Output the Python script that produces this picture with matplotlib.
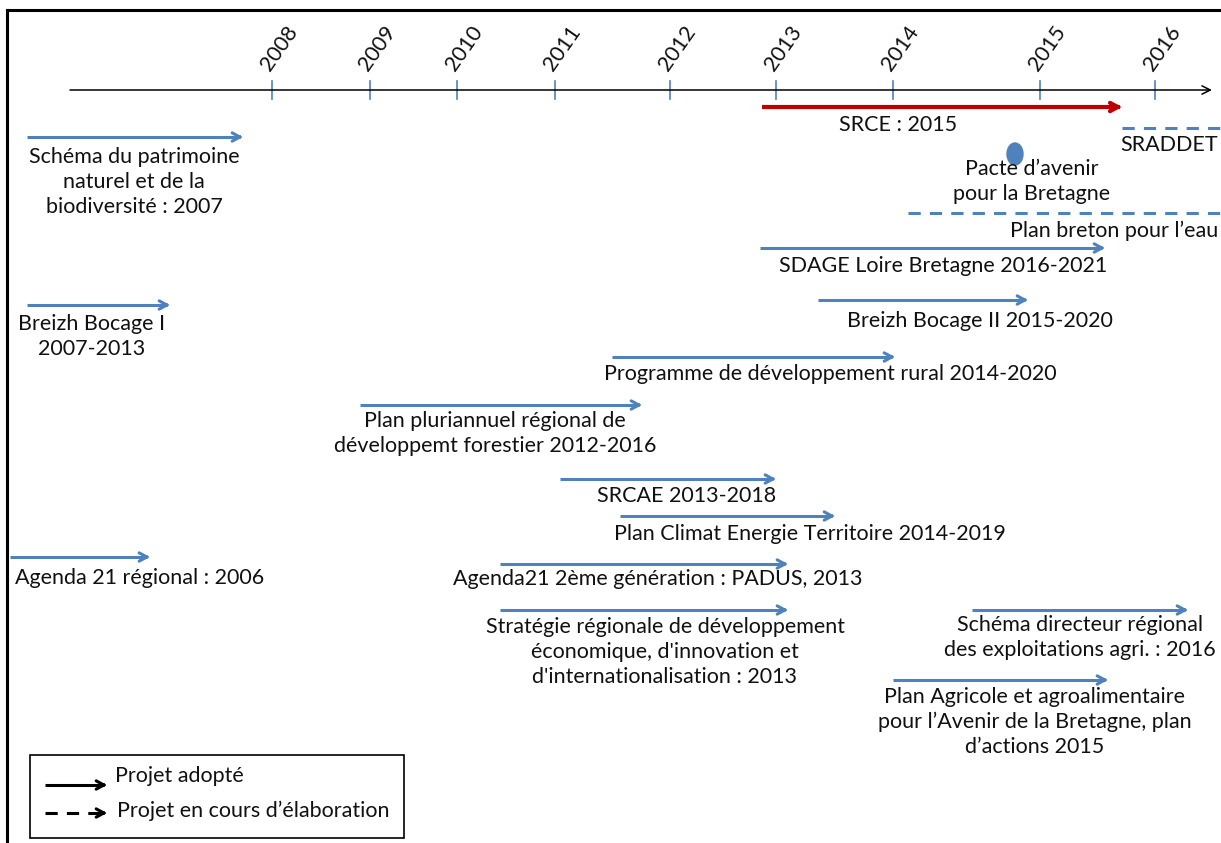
import matplotlib.pyplot as plt
from matplotlib.patches import Ellipse, Rectangle

plt.rcParams['font.family'] = ['Lato', 'DejaVu Sans']

BLUE = '#4F81BD'
RED = '#C00000'
FS = 15.5

# axe du temps (positions des graduations en px)
annees = ['2008', '2009', '2010', '2011', '2012', '2013', '2014', '2015', '2016']
pos_annees = [272, 370, 457, 555, 670, 776, 893, 1040, 1155]

# projets : libellé, début, fin, ligne, couleur, en cours ?
libelles = [
    'Schéma du patrimoine\nnaturel et de la\nbiodiversité : 2007',
    'Breizh Bocage I\n2007-2013',
    'Agenda 21 régional : 2006',
    'SRCE : 2015',
    'SRADDET',
    'Plan breton pour l\u2019eau',
    'SDAGE Loire Bretagne 2016-2021',
    'Breizh Bocage II 2015-2020',
    'Programme de développement rural 2014-2020',
    'Plan pluriannuel régional de\ndéveloppemt forestier 2012-2016',
    'SRCAE 2013-2018',
    'Plan Climat Energie Territoire 2014-2019',
    'Agenda21 2ème génération : PADUS, 2013',
    "Stratégie régionale de développement\néconomique, d'innovation et\nd'internationalisation : 2013",
    'Schéma directeur régional\ndes exploitations agri. : 2016',
    'Plan Agricole et agroalimentaire\npour l\u2019Avenir de la Bretagne, plan\nd\u2019actions 2015',
]
debut = [27, 27, 10, 762, 1122, 908, 760, 818, 612, 360, 560, 620, 500, 500, 972, 893]
fin = [243, 170, 150, 1122, 1240, 1230, 1105, 1028, 895, 642, 776, 835, 788, 788, 1188, 1108]
ligne = [137, 305, 557, 107, 128, 213, 248, 300, 357, 405, 479, 516, 564, 610, 610, 680]
en_cours = [False, False, False, False, True, True, False, False, False, False,
            False, False, False, False, False, False]
# position du texte (centre de la première ligne)
texte_x = [134, 92, 15, 898, 1218, 1218, 943, 980, 830, 495, 687, 810, 658, 665, 1080, 1035]
texte_y = [158, 325, 579, 126, 146, 232, 267, 322, 375, 422, 497, 535, 580, 628, 626, 698]
texte_ha = ['center', 'center', 'left', 'center', 'right', 'right', 'center', 'center',
            'center', 'center', 'center', 'center', 'center', 'center', 'center', 'center']

fig = plt.figure(figsize=(12.21, 8.43), dpi=100)
ax = fig.add_axes([0, 0, 1, 1])
ax.set_xlim(0, 1221)
ax.set_ylim(843, 0)
ax.axis('off')

# cadre
ax.plot([7, 7], [843, 10], color='black', lw=2.2, solid_capstyle='projecting')
ax.plot([7, 1221], [10, 10], color='black', lw=2.2, solid_capstyle='projecting')


def fleche(x0, x1, y, couleur, pointille=False, lw=2.2):
    if pointille:
        ax.plot([x0, x1 - 4], [y, y], color=couleur, lw=lw, dashes=(4, 3))
    else:
        ax.plot([x0, x1 - 4], [y, y], color=couleur, lw=lw, solid_capstyle='butt')
    ax.annotate('', xy=(x1, y), xytext=(x1 - 6, y),
                arrowprops=dict(arrowstyle='->,head_length=0.55,head_width=0.3',
                                color=couleur, lw=lw, shrinkA=0, shrinkB=0))


def texte(x, y, s, ha='center'):
    # y = centre de la première ligne
    ax.text(x, y - 11, s, ha=ha, va='top', fontsize=FS,
            linespacing=1.3, multialignment='center', color='#111111')


# axe du temps
ax.annotate('', xy=(1212, 90), xytext=(70, 90),
            arrowprops=dict(arrowstyle='->,head_length=0.6,head_width=0.3',
                            color='black', lw=1.1, shrinkA=0, shrinkB=0))
for a, x in zip(annees, pos_annees):
    ax.plot([x, x], [81, 99], color=BLUE, lw=1.2)
    ax.text(x + 7, 48, a, rotation=55, ha='center', va='center', fontsize=FS,
            color='#111111')

for i, lib in enumerate(libelles):
    coul = RED if lib.startswith('SRCE') else BLUE
    lw = 3.0 if coul == RED else 2.2
    fleche(debut[i], fin[i], ligne[i], coul, en_cours[i], lw)
    texte(texte_x[i], texte_y[i], lib, texte_ha[i])

# pacte d'avenir
ax.add_patch(Ellipse((1015, 154), 16, 22, color=BLUE))
texte(1032, 170, 'Pacte d\u2019avenir\npour la Bretagne')

# légende
ax.add_patch(Rectangle((30, 755), 374, 83, fill=False, edgecolor='black', lw=1.2))
fleche(45, 107, 785, 'black', False, 2.2)
fleche(45, 107, 813, 'black', True, 2.2)
ax.text(115, 776, 'Projet adopté', ha='left', va='center', fontsize=FS, color='#111111')
ax.text(117, 811, 'Projet en cours d\u2019élaboration', ha='left', va='center',
        fontsize=FS, color='#111111')

fig.savefig('out.png', dpi=100)
